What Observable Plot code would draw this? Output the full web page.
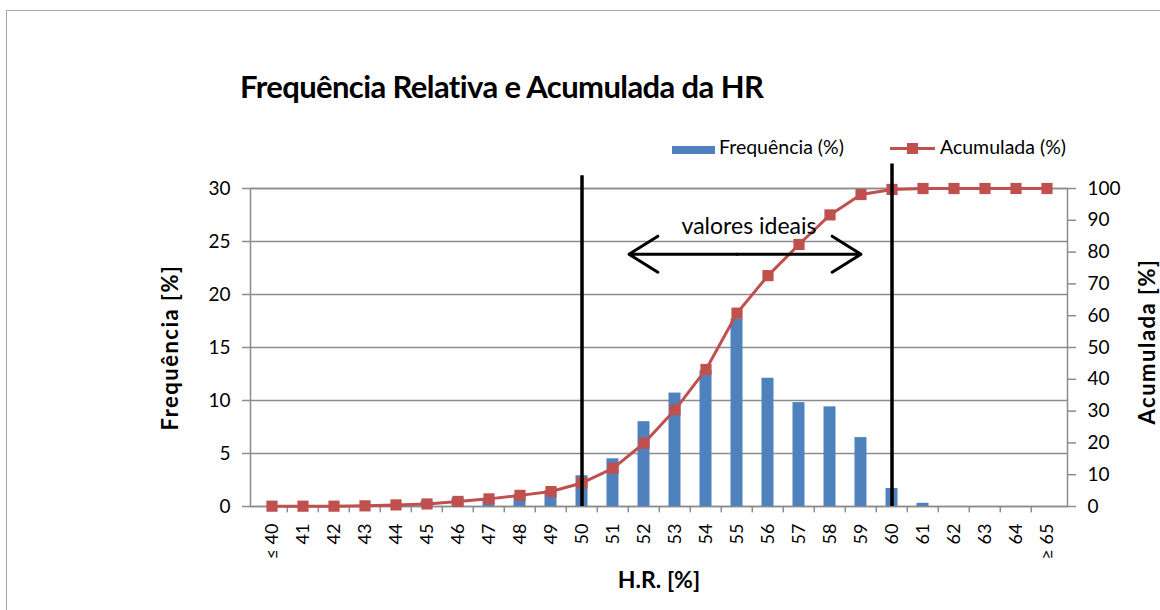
<!DOCTYPE html>
<html><head><meta charset="utf-8">
<script src="https://cdn.jsdelivr.net/npm/d3@7"></script>
<script src="https://cdn.jsdelivr.net/npm/@observablehq/plot@0.6"></script>
<style>
html,body{margin:0;padding:0;background:#fff;font-family:Lato,sans-serif;overflow:hidden;width:1160px;height:610px}
#wrap{position:relative;width:1160px;height:610px;overflow:hidden;background:#fff}
#border{position:absolute;left:6px;top:10px;width:1300px;height:800px;border:1.5px solid #a6a6a6;box-sizing:border-box}
#title{position:absolute;left:240px;top:67px;font-weight:bold;font-size:31px;line-height:38px;color:#000;white-space:nowrap;letter-spacing:-0.6px}
.lg{position:absolute;font-size:19.5px;line-height:22px;color:#000;white-space:nowrap}
#chart{position:absolute;left:0;top:155px;width:1160px;height:455px}
#chart svg{max-width:none !important;width:1160px;height:455px}
</style></head>
<body><div id="wrap">
<div id="border"></div>
<div id="title">Frequência Relativa e Acumulada da HR</div>
<div style="position:absolute;left:672px;top:146px;width:43px;height:8px;background:#4F81BD"></div>
<div class="lg" style="left:719px;top:136px">Frequência (%)</div>
<div style="position:absolute;left:890px;top:147px;width:45px;height:3px;background:#C0504D"></div>
<div style="position:absolute;left:907px;top:143px;width:11px;height:11px;background:#C0504D"></div>
<div class="lg" style="left:940px;top:136px">Acumulada (%)</div>
<div id="chart"></div>
</div>
<script>
const categories = ["≤ 40","41","42","43","44","45","46","47","48","49","50","51","52","53","54","55","56","57","58","59","60","61","62","63","64","≥ 65"];
const frequencia = [0,0,0,0,0.2,0.5,0.8,0.7,1.1,1.5,2.9,4.5,8.0,10.7,12.8,17.7,12.1,9.8,9.4,6.5,1.7,0.3,0,0,0,0];
const acumulada = [0.1,0.1,0.1,0.2,0.5,0.8,1.6,2.4,3.5,4.7,7.4,12.0,19.9,30.4,43.1,60.8,72.6,82.4,91.7,98.1,99.7,100,100,100,100,100];
const leftTicks = [0,5,10,15,20,25,30];
const rightTicks = [0,10,20,30,40,50,60,70,80,90,100];
const limites = ["50","60"];

const rows = categories.map((c,i)=>({cat:c, freq:frequencia[i], acum:acumulada[i]}));
const k = 30/100; // right axis (0–100) mapped onto left axis (0–30)
const W = 1160, H = 455, ML = 250, MR = 93, MT = 33, MB = 104;
const bw = (W - ML - MR) / categories.length;
const grid = "#8c8c8c";

const chart = Plot.plot({
  width: W, height: H,
  marginLeft: ML, marginRight: MR, marginTop: MT, marginBottom: MB,
  style: {fontFamily: "Lato, sans-serif", background: "transparent", overflow: "visible"},
  x: {type: "band", domain: categories, padding: 0},
  y: {domain: [0, 30]},
  marks: [
    Plot.ruleY(leftTicks, {stroke: grid, strokeWidth: 1.5}),
    Plot.frame({stroke: grid, strokeWidth: 1.5}),
    Plot.ruleX(categories.slice(1), {x: d => d, y1: 0, y2: -0.6, dx: -bw/2, stroke: grid, strokeWidth: 1.5}),
    Plot.barY(rows, {x: "cat", y: "freq", fill: "#4F81BD", insetLeft: 9.5, insetRight: 9.5}),
    Plot.line(rows, {x: "cat", y: d => d.acum * k, stroke: "#C0504D", strokeWidth: 3}),
    Plot.dot(rows, {x: "cat", y: d => d.acum * k, symbol: "square", r: 6.3, fill: "#C0504D"}),
    Plot.ruleX([limites[0]], {x: d => d, y1: 0, y2: 31.2, stroke: "black", strokeWidth: 3.5}),
    Plot.ruleX([limites[1]], {x: d => d, y1: 0, y2: 32.3, stroke: "black", strokeWidth: 3.5}),
    Plot.arrow([{a: "55", b: "51"}], {x1: "a", x2: "b", y1: 23.8, y2: 23.8, insetEnd: 16, stroke: "black", strokeWidth: 3, headLength: 17, headAngle: 64}),
    Plot.arrow([{a: "55", b: "59"}], {x1: "a", x2: "b", y1: 23.8, y2: 23.8, stroke: "black", strokeWidth: 3, headLength: 17, headAngle: 64}),
    Plot.text(["valores ideais"], {x: () => "55", y: 26.4, text: d => d, dx: 12, fontSize: 23, fill: "black"}),
    Plot.axisY({ticks: leftTicks, tickSize: 8, tickPadding: 12, fontSize: 19, stroke: grid, strokeWidth: 1.5, fill: "black", label: null}),
    Plot.axisY({anchor: "right", ticks: rightTicks.map(v => v * k), tickFormat: v => Math.round(v / k), tickSize: 8, tickPadding: 12, fontSize: 19, stroke: grid, strokeWidth: 1.5, fill: "black", label: null}),
    Plot.axisX({tickSize: 0, tickRotate: -90, tickPadding: 17, fontSize: 18, fill: "black", label: null}),
    Plot.text(["Frequência [%]"], {frameAnchor: "left", textAnchor: "middle", text: d => d, dx: -80, rotate: -90, fontSize: 22, fontWeight: "bold", fill: "black"}),
    Plot.text(["Acumulada [%]"], {frameAnchor: "right", textAnchor: "middle", text: d => d, dx: 80, dy: -6, rotate: -90, fontSize: 22, fontWeight: "bold", fill: "black"}),
    Plot.text(["H.R. [%]"], {frameAnchor: "bottom", text: d => d, dy: 81, fontSize: 23, fontWeight: "bold", fill: "black"})
  ]
});
// widen the two rotated axis titles to the reference's proportions
d3.select(chart).selectAll("text").filter(function() {
  const t = this.textContent; return t === "Frequência [%]" || t === "Acumulada [%]";
}).style("letter-spacing", "1.5px");
document.getElementById("chart").appendChild(chart);
</script>
</body></html>
